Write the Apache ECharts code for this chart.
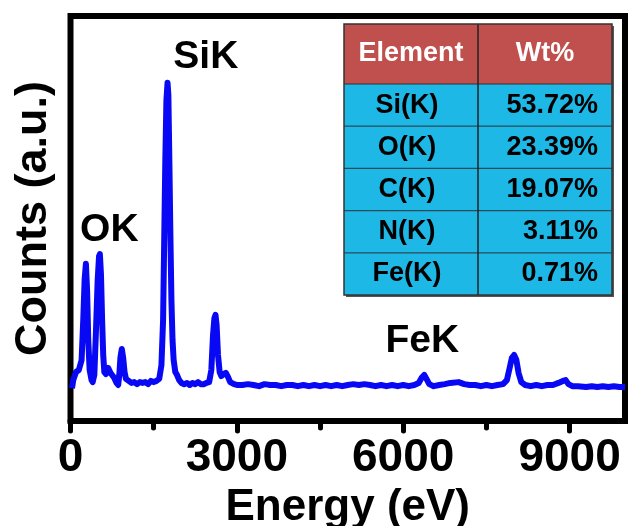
<!DOCTYPE html>
<html>
<head>
<meta charset="utf-8">
<script src="https://cdn.jsdelivr.net/npm/echarts@6/dist/echarts.min.js"></script>
<style>html,body{margin:0;padding:0;background:#fff;}#c{width:628px;height:526px;}</style>
</head>
<body>
<div id="c"></div>
<script>
// Spectrum: [energy (eV), counts (a.u.)]
var spectrum = [
[27,8.1],[50,10.1],[100,12.1],[150,12.6],[200,15],[230,25],[255,35],[278,38.8],[300,32],[320,20],[345,12.6],[380,10.1],[400,9.6],
[430,11.4],[460,22.5],[490,34.8],[515,40.7],[530,41.2],[550,36],[570,25],[590,16.3],[610,12.1],[640,11.6],[680,13.1],[720,11.9],
[750,12.3],[790,10.6],[830,9.4],[860,8.9],[880,11.4],[900,15.6],[925,17.8],[950,15.6],[975,12.1],[1000,10.4],[1050,9.9],[1100,9.4],
[1150,9.6],[1200,9.1],[1250,9.6],[1300,9.4],[1350,9.6],[1400,9.1],[1450,9.9],[1500,9.6],[1550,9.9],[1600,10.4],[1640,13.8],[1670,25],
[1690,44.7],[1710,64.4],[1730,79.3],[1750,83.5],[1765,80.5],[1780,66.9],[1800,47.2],[1820,29.9],[1840,20],[1860,15.1],[1890,12.1],
[1920,11.4],[1960,10.1],[2000,9.4],[2050,9.1],[2100,9.4],[2150,8.9],[2200,9.4],[2250,9.1],[2300,9.6],[2350,9.1],[2400,9.1],[2450,9.4],
[2500,9.6],[2540,12.6],[2570,21.2],[2595,25.4],[2615,26.2],[2635,23.7],[2660,16.3],[2690,12.1],[2720,11.1],[2760,11.6],[2800,11.9],
[2840,10.9],[2880,9.6],[2950,9.1],[3000,8.9],[3100,8.9],[3200,9.1],[3300,8.9],[3400,8.6],[3500,9.1],[3600,8.9],[3700,8.9],[3800,8.6],
[3900,8.9],[4000,8.9],[4100,8.6],[4200,8.9],[4300,8.6],[4400,8.9],[4500,8.6],[4600,8.9],[4700,8.6],[4800,8.9],[4900,8.6],[5000,8.9],
[5100,9.1],[5200,8.9],[5300,9.1],[5400,8.9],[5500,8.6],[5600,8.9],[5700,8.6],[5800,8.9],[5900,8.6],[6000,8.9],[6100,8.6],[6200,8.9],
[6280,9.4],[6330,10.6],[6380,11.4],[6420,10.4],[6470,9.1],[6550,8.6],[6650,8.9],[6750,9.1],[6850,9.4],[7000,9.6],[7100,9.1],[7200,8.9],
[7300,8.9],[7400,8.6],[7500,8.9],[7600,8.6],[7700,8.9],[7800,9.1],[7870,10.1],[7920,13.1],[7960,15.6],[8000,16.3],[8040,15.1],
[8080,11.9],[8130,9.6],[8200,8.9],[8300,8.6],[8400,8.9],[8500,8.6],[8600,8.9],[8700,8.9],[8800,9.4],[8880,9.9],[8930,10.1],[8980,9.1],
[9050,8.6],[9150,8.6],[9300,8.4],[9400,8.6],[9500,8.4],[9600,8.6],[9700,8.4],[9800,8.6],[9900,8.4],[10000,8.4]
];
// Peak annotations: [energy, counts, text]
var peakLabels = [[2441,89.8,'SiK'],[700,47.2,'OK'],[6344,19.8,'FeK']];
// Axis ticks
var majorTicks = [0,3000,6000,9000];
var minorTicks = [1500,4500,7500];
// Table
var tableHeader = ['Element','Wt%'];
var elements = ['Si(K)','O(K)','C(K)','N(K)','Fe(K)'];
var wtPercent = ['53.72%','23.39%','19.07%','3.11%','0.71%'];

var FONT = '"Liberation Sans", Arial, Helvetica, sans-serif';
var chart = echarts.init(document.getElementById('c'));

var tx0 = 344, tx1 = 478, tx2 = 612, ty0 = 24, tyH = 84, rowH = 42.2;
var g = [];
var tyEnd = tyH + rowH * elements.length;
g.push({type:'rect', shape:{x:tx0+2, y:ty0+2, width:tx2-tx0, height:tyEnd-ty0}, style:{fill:'#555'}, z:100});
g.push({type:'rect', shape:{x:tx0, y:ty0, width:tx2-tx0, height:tyH-ty0}, style:{fill:'#C0504D'}, z:101});
g.push({type:'rect', shape:{x:tx0, y:tyH, width:tx2-tx0, height:tyEnd-tyH}, style:{fill:'#1EB8E6'}, z:101});
for (var i = 1; i < elements.length; i++) {
  g.push({type:'line', shape:{x1:tx0, y1:tyH+rowH*i, x2:tx2, y2:tyH+rowH*i}, style:{stroke:'#2a4a58', lineWidth:1.2}, z:102});
}
g.push({type:'line', shape:{x1:tx0, y1:tyH, x2:tx2, y2:tyH}, style:{stroke:'#3a2a2a', lineWidth:1.2}, z:102});
g.push({type:'line', shape:{x1:tx1, y1:ty0, x2:tx1, y2:tyEnd}, style:{stroke:'#222', lineWidth:1.5}, z:102});
g.push({type:'rect', shape:{x:tx0, y:ty0, width:tx2-tx0, height:tyEnd-ty0}, style:{fill:'none', stroke:'#333', lineWidth:1.5}, z:103});
g.push({type:'text', style:{text:tableHeader[0], x:(tx0+tx1)/2, y:(ty0+tyH)/2, align:'center', verticalAlign:'middle', fill:'#fff', font:'bold 27px '+FONT}, z:104});
g.push({type:'text', style:{text:tableHeader[1], x:(tx1+tx2)/2, y:(ty0+tyH)/2, align:'center', verticalAlign:'middle', fill:'#fff', font:'bold 27px '+FONT}, z:104});
for (var j = 0; j < elements.length; j++) {
  var cy = tyH + rowH*j + rowH/2;
  g.push({type:'text', style:{text:elements[j], x:(tx0+tx1)/2 - 4, y:cy, align:'center', verticalAlign:'middle', fill:'#000', font:'bold 27px '+FONT}, z:104});
  g.push({type:'text', style:{text:wtPercent[j], x:tx2-14, y:cy, align:'right', verticalAlign:'middle', fill:'#000', font:'bold 27px '+FONT}, z:104});
}

chart.setOption({
  animation: false,
  backgroundColor: '#fff',
  grid: {left:70.5, right:3, top:16, bottom:105, outerBoundsMode:'none', containLabel:false, show:true, borderColor:'#000', borderWidth:6, backgroundColor:'transparent'},
  xAxis: [{
    type:'value', min:0, max:10000, interval:3000, position:'bottom',
    name:'Energy (eV)', nameLocation:'middle', nameGap:64,
    nameTextStyle:{fontSize:44, fontWeight:'bold', fontFamily:FONT, color:'#000'},
    axisLine:{show:true, lineStyle:{color:'#000', width:6}},
    axisTick:{show:true, length:10, customValues:majorTicks, lineStyle:{color:'#000', width:5, cap:'round'}},
    axisLabel:{show:true, customValues:majorTicks, formatter:function(v){return String(v);}, fontSize:46, fontWeight:'bold', fontFamily:FONT, color:'#000', margin:14},
    splitLine:{show:false}
  },{
    type:'value', min:0, max:10000, position:'bottom',
    axisLine:{show:false},
    axisTick:{show:true, length:7, customValues:minorTicks, lineStyle:{color:'#000', width:5, cap:'round'}},
    axisLabel:{show:false},
    splitLine:{show:false}
  }],
  yAxis: {
    type:'value', min:0, max:100,
    name:'Counts (a.u.)', nameLocation:'middle', nameGap:14,
    nameTextStyle:{fontSize:45, fontWeight:'bold', fontFamily:FONT, color:'#000'},
    axisLine:{show:false}, axisTick:{show:false}, axisLabel:{show:false}, splitLine:{show:false}
  },
  series: [{
    type:'line', xAxisIndex:0, data:spectrum, showSymbol:false, symbol:'none',
    lineStyle:{color:'#0808F5', width:6, join:'round'}, z:5
  },{
    type:'scatter', xAxisIndex:0, symbolSize:1, silent:true,
    itemStyle:{color:'rgba(0,0,0,0)', opacity:1},
    data: peakLabels.map(function(p){ return {value:[p[0], p[1]], name:p[2]}; }),
    label:{show:true, position:'inside', formatter:function(p){return p.name;}, fontSize:39, fontWeight:'bold', fontFamily:FONT, color:'#000', opacity:1},
    z:6
  }],
  graphic: g
});
</script>
</body>
</html>
